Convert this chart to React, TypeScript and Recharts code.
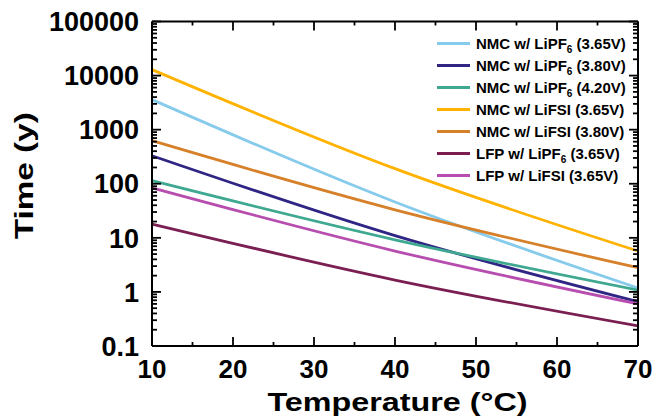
import React from 'react'
import { LineChart, Line, XAxis, YAxis, Legend } from 'recharts'

// temperature (°C) and lifetime (years)
const temps = [10, 40, 70]
const nmcPf6_365 = [3600, 46, 1.18]
const nmcPf6_380 = [330, 11, 0.66]
const nmcPf6_420 = [114, 9.2, 1.08]
const nmcFsi_365 = [12900, 190, 5.7]
const nmcFsi_380 = [625, 33, 2.8]
const lfpPf6_365 = [18, 1.66, 0.235]
const lfpFsi_365 = [84, 5.7, 0.6]

const xTickLabels = [10, 20, 30, 40, 50, 60, 70]
const xMinorTicks = [15, 25, 35, 45, 55, 65]
const yTickLabels = [0.1, 1, 10, 100, 1000, 10000, 100000]

const series = [
  { key: 'nmcPf6_365', values: nmcPf6_365, color: '#86cbeb', name: 'NMC w/ LiPF', sub: '6', tail: ' (3.65V)' },
  { key: 'nmcPf6_380', values: nmcPf6_380, color: '#2f2585', name: 'NMC w/ LiPF', sub: '6', tail: ' (3.80V)' },
  { key: 'nmcPf6_420', values: nmcPf6_420, color: '#3fa891', name: 'NMC w/ LiPF', sub: '6', tail: ' (4.20V)' },
  { key: 'nmcFsi_365', values: nmcFsi_365, color: '#ffb200', name: 'NMC w/ LiFSI (3.65V)', sub: '', tail: '' },
  { key: 'nmcFsi_380', values: nmcFsi_380, color: '#d6802a', name: 'NMC w/ LiFSI (3.80V)', sub: '', tail: '' },
  { key: 'lfpPf6_365', values: lfpPf6_365, color: '#7b1f52', name: 'LFP w/ LiPF', sub: '6', tail: ' (3.65V)' },
  { key: 'lfpFsi_365', values: lfpFsi_365, color: '#b64daf', name: 'LFP w/ LiFSI (3.65V)', sub: '', tail: '' },
]

const data = temps.map((t, i) => {
  const row: any = { t }
  series.forEach((s) => { row[s.key] = s.values[i] })
  return row
})

// minor log ticks 2..9 inside every decade
const yTicks: number[] = []
yTickLabels.forEach((d, i) => {
  yTicks.push(d)
  if (i < yTickLabels.length - 1) {
    for (let m = 2; m <= 9; m++) yTicks.push(+(d * m).toPrecision(3))
  }
})
const xTicks = [...xTickLabels, ...xMinorTicks].sort((a, b) => a - b)

const FONT = '"Liberation Sans", Arial, Helvetica, sans-serif'
const isDecade = (v: number) => yTickLabels.includes(v)

const bottomTick = (props: any) => {
  const { x, y, payload } = props
  const major = xTickLabels.includes(payload.value)
  return (
    <g key={`b${payload.value}`}>
      <line x1={x} x2={x} y1={y} y2={y - (major ? 9 : 4)} stroke="#000" strokeWidth={1.8} />
      {major && (
        <text x={x} y={y + 32} textAnchor="middle" fontFamily={FONT} fontWeight="bold" fontSize={26} fill="#000">
          {payload.value}
        </text>
      )}
    </g>
  )
}

const topTick = (props: any) => {
  const { x, y, payload } = props
  const major = xTickLabels.includes(payload.value)
  return <line key={`t${payload.value}`} x1={x} x2={x} y1={y} y2={y + (major ? 9 : 4)} stroke="#000" strokeWidth={1.8} />
}

const leftTick = (props: any) => {
  const { x, y, payload } = props
  const major = isDecade(payload.value)
  return (
    <g key={`l${payload.value}`}>
      <line x1={x} x2={x + (major ? 9 : 5)} y1={y} y2={y} stroke="#000" strokeWidth={1.8} />
      {major && (
        <text x={x - 13} y={y} dy="0.36em" textAnchor="end" fontFamily={FONT} fontWeight="bold" fontSize={27} fill="#000">
          {payload.value}
        </text>
      )}
    </g>
  )
}

const rightTick = (props: any) => {
  const { x, y, payload } = props
  const major = isDecade(payload.value)
  return <line key={`r${payload.value}`} x1={x} x2={x - (major ? 9 : 5)} y1={y} y2={y} stroke="#000" strokeWidth={1.8} />
}

const XTitle = (props: any) => {
  const { x, y, width } = props.viewBox
  return (
    <text x={x + width / 2 + 2.5} y={y + 65} textAnchor="middle" fontFamily={FONT} fontWeight="bold" fontSize={26}
      textLength={260} lengthAdjust="spacingAndGlyphs" fill="#000">
      Temperature (°C)
    </text>
  )
}

const YTitle = (props: any) => {
  const { y, height } = props.viewBox
  const cx = 23.5
  const cy = y + height / 2 - 8
  return (
    <text x={cx} y={cy} dy="0.35em" textAnchor="middle" transform={`rotate(-90, ${cx}, ${cy})`} fontFamily={FONT}
      fontWeight="bold" fontSize={26} textLength={127} lengthAdjust="spacingAndGlyphs" fill="#000">
      Time (y)
    </text>
  )
}

const LegendBox = () => (
  <div style={{ fontFamily: FONT, fontWeight: 'bold', fontSize: 15, color: '#000' }}>
    {series.map((s) => (
      <div key={s.key} style={{ display: 'flex', alignItems: 'center', height: 22, whiteSpace: 'nowrap' }}>
        <div style={{ width: 33, height: 3, background: s.color, marginRight: 6 }} />
        <span>
          {s.name}
          {s.sub && <span style={{ fontSize: 10, position: 'relative', top: 4 }}>{s.sub}</span>}
          {s.tail}
        </span>
      </div>
    ))}
  </div>
)

export default function App() {
  return (
    <div style={{ position: 'absolute', left: 0, top: 0, width: 654, height: 420, overflow: 'hidden' }}>
      <LineChart width={654} height={420} data={data} margin={{ top: 11.5, right: 6, bottom: 0, left: 0 }}>
        <XAxis dataKey="t" type="number" domain={[10, 70]} ticks={xTicks} interval={0} height={74}
          axisLine={{ stroke: '#000', strokeWidth: 2 }} tickLine={false} tickSize={0} tickMargin={0}
          tick={bottomTick} label={{ content: <XTitle /> }} />
        <XAxis xAxisId="top" orientation="top" dataKey="t" type="number" domain={[10, 70]} ticks={xTicks}
          interval={0} height={10} axisLine={{ stroke: '#000', strokeWidth: 2 }} tickLine={false} tickSize={0}
          tickMargin={0} tick={topTick} />
        <YAxis scale="log" type="number" domain={[0.1, 100000]} allowDataOverflow ticks={yTicks} interval={0}
          width={152} axisLine={{ stroke: '#000', strokeWidth: 2 }} tickLine={false} tickSize={0} tickMargin={0}
          tick={leftTick} label={{ content: <YTitle /> }} />
        <YAxis yAxisId="right" orientation="right" scale="log" type="number" domain={[0.1, 100000]}
          allowDataOverflow ticks={yTicks} interval={0} width={10} axisLine={{ stroke: '#000', strokeWidth: 2 }}
          tickLine={false} tickSize={0} tickMargin={0} tick={rightTick} />
        <Legend content={<LegendBox />} layout="vertical" align="center" verticalAlign="middle"
          wrapperStyle={{ top: 32, left: 437, width: 210 }} />
        {series.map((s) => (
          <Line key={s.key} dataKey={s.key} type="monotone" stroke={s.color} strokeWidth={2.8} dot={false}
            isAnimationActive={false} />
        ))}
      </LineChart>
    </div>
  )
}
